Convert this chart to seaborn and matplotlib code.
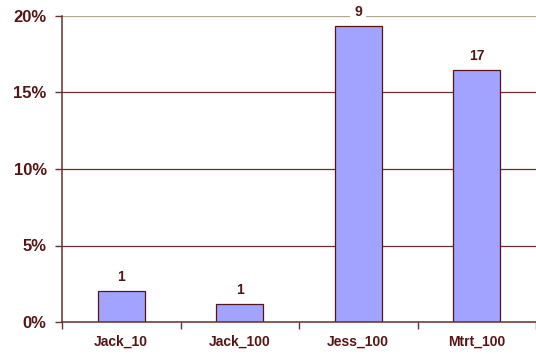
import matplotlib
matplotlib.use("Agg")
import matplotlib.pyplot as plt
import matplotlib.ticker as mticker
import seaborn as sns
import pandas as pd

CATEGORIES = ["Jack_10", "Jack_100", "Jess_100", "Mtrt_100"]
SHARES = [0.0203, 0.0118, 0.1935, 0.1647]
COUNTS = [1, 1, 9, 17]

TEXT = "#561414"
AXIS = "#6e2e2e"
BAR = "#a2a2ff"
TOPGRID = "#b4a68e"

sns.set_theme(style="white")
plt.rcParams["font.family"] = ["Liberation Sans", "DejaVu Sans"]
plt.rcParams["font.weight"] = "bold"

df = pd.DataFrame({"cat": CATEGORIES, "share": SHARES, "count": COUNTS})

fig = plt.figure(figsize=(5.36, 3.54), dpi=100)
ax = fig.add_axes([62 / 536, 1 - 322 / 354, 1 - 62 / 536, 306 / 354])

sns.barplot(data=df, x="cat", y="share", order=CATEGORIES, color=BAR,
            saturation=1, width=0.4, edgecolor=TEXT, linewidth=0.9, ax=ax)

ax.set_xlim(-0.5, 3.5)
ax.set_ylim(0, 0.20)
ax.yaxis.set_major_locator(mticker.MultipleLocator(0.05))
ax.yaxis.set_major_formatter(mticker.FuncFormatter(lambda v, p: f"{v * 100:.0f}%"))
ax.set_xticks([i + 0.5 for i in range(-1, len(CATEGORIES))], minor=True)
ax.set_xticks(range(len(CATEGORIES)))
ax.set_xticklabels(CATEGORIES)
ax.tick_params(axis="x", which="major", length=0, pad=9, labelsize=10, labelcolor=TEXT)
ax.tick_params(axis="x", which="minor", length=5, width=1, color=AXIS, direction="out", bottom=True)
ax.tick_params(axis="y", length=5, width=1, color=AXIS, direction="out", left=True,
               labelsize=12, labelcolor=TEXT, pad=6)

ax.set_axisbelow(True)
ax.yaxis.grid(True, color=AXIS, linewidth=0.9)
for line, val in zip(ax.get_ygridlines(), ax.get_yticks()):
    if abs(val - 0.20) < 1e-9:
        line.set_color(TOPGRID)

for s in ["top", "right"]:
    ax.spines[s].set_visible(False)
for s in ["left", "bottom"]:
    ax.spines[s].set_color(AXIS)
    ax.spines[s].set_linewidth(1.1)

ax.set_xlabel("")
ax.set_ylabel("")

for i, (v, c) in enumerate(zip(SHARES, COUNTS)):
    ax.annotate(str(c), xy=(i, v), xytext=(0, 5), textcoords="offset points",
                ha="center", va="bottom", fontsize=10, fontweight="bold", color=TEXT,
                bbox=dict(facecolor="white", edgecolor="none", pad=3),
                annotation_clip=False)

fig.savefig("out.png", dpi=100)
